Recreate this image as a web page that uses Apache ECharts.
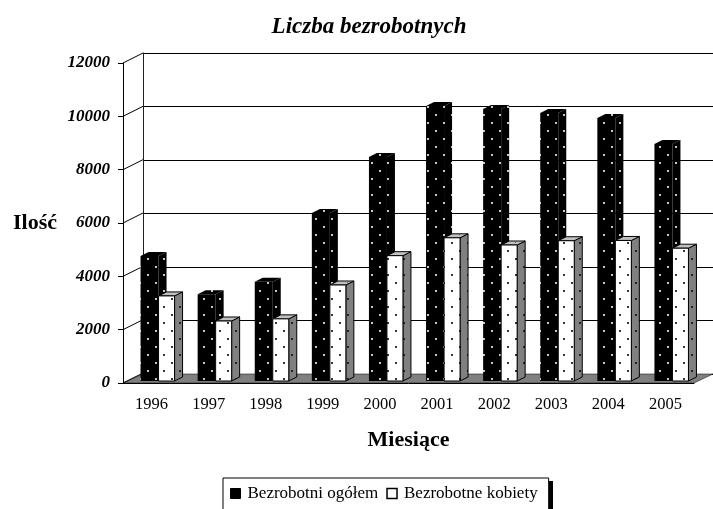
<!DOCTYPE html>
<html>
<head>
<meta charset="utf-8">
<style>html,body{margin:0;padding:0;background:#fff;overflow:hidden}#c{width:713px;height:509px}</style>
<script src="https://cdn.jsdelivr.net/npm/echarts@6/dist/echarts.min.js"></script>
</head>
<body>
<div id="c"></div>
<script>
const categories = ['1996','1997','1998','1999','2000','2001','2002','2003','2004','2005'];
const bezrobotniOgolem = [4690,3250,3720,6300,8400,10310,10200,10050,9860,8890];
const bezrobotneKobiety = [3190,2250,2330,3600,4700,5370,5100,5260,5270,4980];
const titleText = 'Liczba bezrobotnych';
const yName = 'Ilość';
const xName = 'Miesiące';
const seriesNames = ['Bezrobotni ogółem','Bezrobotne kobiety'];

const FONT = '"Liberation Serif","Times New Roman",serif';

function dots(bg, dot, dotSize) {
  const c = document.createElement('canvas');
  c.width = 16; c.height = 16;
  const g = c.getContext('2d');
  g.fillStyle = bg; g.fillRect(0, 0, 16, 16);
  g.fillStyle = dot;
  g.fillRect(3, 2, dotSize, dotSize);
  g.fillRect(11, 10, dotSize, dotSize);
  return {image: c, repeat: 'repeat'};
}
const pBlack = dots('#000', '#c8c8c8', 2);
const pWhite = dots('#fff', '#333', 2);
const pGray = dots('#808080', '#222', 2);
const pLight = dots('#c0c0c0', '#666', 1);

const DX = 8, DY = 4, BASE = 2;

function bar3d(offset, width, faces) {
  return function (params, api) {
    const c = api.coord([api.value(0), api.value(1)]);
    const b = api.coord([api.value(0), 0]);
    const x0 = c[0] + offset, x1 = x0 + width;
    const yT = c[1] - BASE, yB = b[1] - BASE;
    const st = faces.stroke ? {stroke: '#000', lineWidth: 1} : {stroke: null};
    return {
      type: 'group',
      children: [
        {type: 'polygon', shape: {points: [[x1, yB], [x1 + DX, yB - DY], [x1 + DX, yT - DY], [x1, yT]]},
          style: Object.assign({fill: faces.side}, st)},
        {type: 'polygon', shape: {points: [[x0, yT], [x0 + DX, yT - DY], [x1 + DX, yT - DY], [x1, yT]]},
          style: Object.assign({fill: faces.top}, st)},
        {type: 'rect', shape: {x: x0, y: yT, width: width, height: yB - yT},
          style: Object.assign({fill: faces.front}, st)}
      ]
    };
  };
}

const yTickValues = [0,2000,4000,6000,8000,10000,12000];

const option = {
  animation: false,
  backgroundColor: '#fff',
  title: {
    text: titleText, left: 364, top: 11, textAlign: 'center',
    textStyle: {fontFamily: FONT, fontSize: 23, fontWeight: 'bold', fontStyle: 'italic', color: '#000'}
  },
  graphic: [
    {type: 'rect', z: -1, shape: {x: 549, y: 481, width: 4, height: 28}, style: {fill: '#000'}}
  ],
  legend: {
    left: 223, top: 478,
    data: [
      {name: seriesNames[0], itemStyle: {color: '#000', borderColor: '#000', borderWidth: 1}},
      {name: seriesNames[1], itemStyle: {color: '#fff', borderColor: '#000', borderWidth: 1.5}}
    ],
    icon: 'rect', itemWidth: 10, itemHeight: 10, itemGap: 8,
    padding: [7, 11, 20, 7],
    backgroundColor: '#fff', borderColor: '#000', borderWidth: 1,
    textStyle: {fontFamily: FONT, fontSize: 17, color: '#000', padding: [0, 0, 0, 2]}
  },
  grid: [
    {left: 123, right: 19, top: 63, bottom: 126, outerBoundsMode: 'none'},
    {left: 143, right: 0, top: 53, bottom: 135, outerBoundsMode: 'none'}
  ],
  xAxis: [
    {type: 'category', gridIndex: 0, data: categories, boundaryGap: true,
     name: xName, nameLocation: 'middle', nameGap: 46,
     nameTextStyle: {fontFamily: FONT, fontSize: 22, fontWeight: 'bold', color: '#000'},
     axisLine: {lineStyle: {color: '#000', width: 1}},
     axisTick: {length: 7, lineStyle: {color: '#000'}},
     axisLabel: {fontFamily: FONT, fontSize: 16.5, color: '#000', margin: 13}},
    {type: 'category', gridIndex: 1, data: categories, show: false}
  ],
  yAxis: [
    {type: 'value', gridIndex: 0, min: 0, max: 12000, interval: 2000,
     name: yName, nameLocation: 'middle', nameRotate: 0, nameGap: 66,
     nameTextStyle: {fontFamily: FONT, fontSize: 22, fontWeight: 'bold', color: '#000', padding: [3, 0, 0, 0]},
     axisLine: {show: true, lineStyle: {color: '#000', width: 1}},
     axisTick: {show: true, length: 5, lineStyle: {color: '#000'}},
     splitLine: {show: false},
     axisLabel: {formatter: function (v) { return String(v); }, fontFamily: FONT, fontSize: 17, fontWeight: 'bold', fontStyle: 'italic', color: '#000', margin: 13}},
    {type: 'value', gridIndex: 1, min: 0, max: 12000, interval: 2000,
     axisLabel: {show: false}, axisTick: {show: false},
     axisLine: {show: true, lineStyle: {color: '#222', width: 1}},
     splitLine: {show: true, lineStyle: {color: '#000', width: 1}}}
  ],
  series: [
    {type: 'custom', name: 'frame', xAxisIndex: 0, yAxisIndex: 0, silent: true, z: 1,
     data: yTickValues.map(v => [0, v]),
     renderItem: function (params, api) {
       const cs = params.coordSys;
       const p = api.coord([0, api.value(1)]);
       const children = [{type: 'line', shape: {x1: cs.x, y1: p[1], x2: cs.x + 20, y2: p[1] - 10}, style: {stroke: '#000', lineWidth: 1}}];
       if (api.value(1) === 0) {
         children.unshift({type: 'polygon',
           shape: {points: [[cs.x, p[1]], [cs.x + 20, p[1] - 9], [cs.x + cs.width + 19, p[1] - 9], [cs.x + cs.width, p[1]]]},
           style: {fill: '#808080', stroke: '#000', lineWidth: 0.5}});
       }
       return {type: 'group', children};
     }},
    {type: 'custom', name: seriesNames[0], xAxisIndex: 0, yAxisIndex: 0, z: 3,
     itemStyle: {color: '#000'},
     encode: {x: 0, y: 1},
     data: categories.map((c, i) => [i, bezrobotniOgolem[i]]),
     renderItem: bar3d(-11, 18, {front: pBlack, side: pBlack, top: pBlack, stroke: false})},
    {type: 'custom', name: seriesNames[1], xAxisIndex: 0, yAxisIndex: 0, z: 4,
     itemStyle: {color: '#fff'},
     encode: {x: 0, y: 1},
     data: categories.map((c, i) => [i, bezrobotneKobiety[i]]),
     renderItem: bar3d(7, 16, {front: pWhite, side: pGray, top: pLight, stroke: true})}
  ]
};
const chart = echarts.init(document.getElementById('c'), null, {renderer: 'canvas'});
chart.setOption(option);
</script>
</body>
</html>
